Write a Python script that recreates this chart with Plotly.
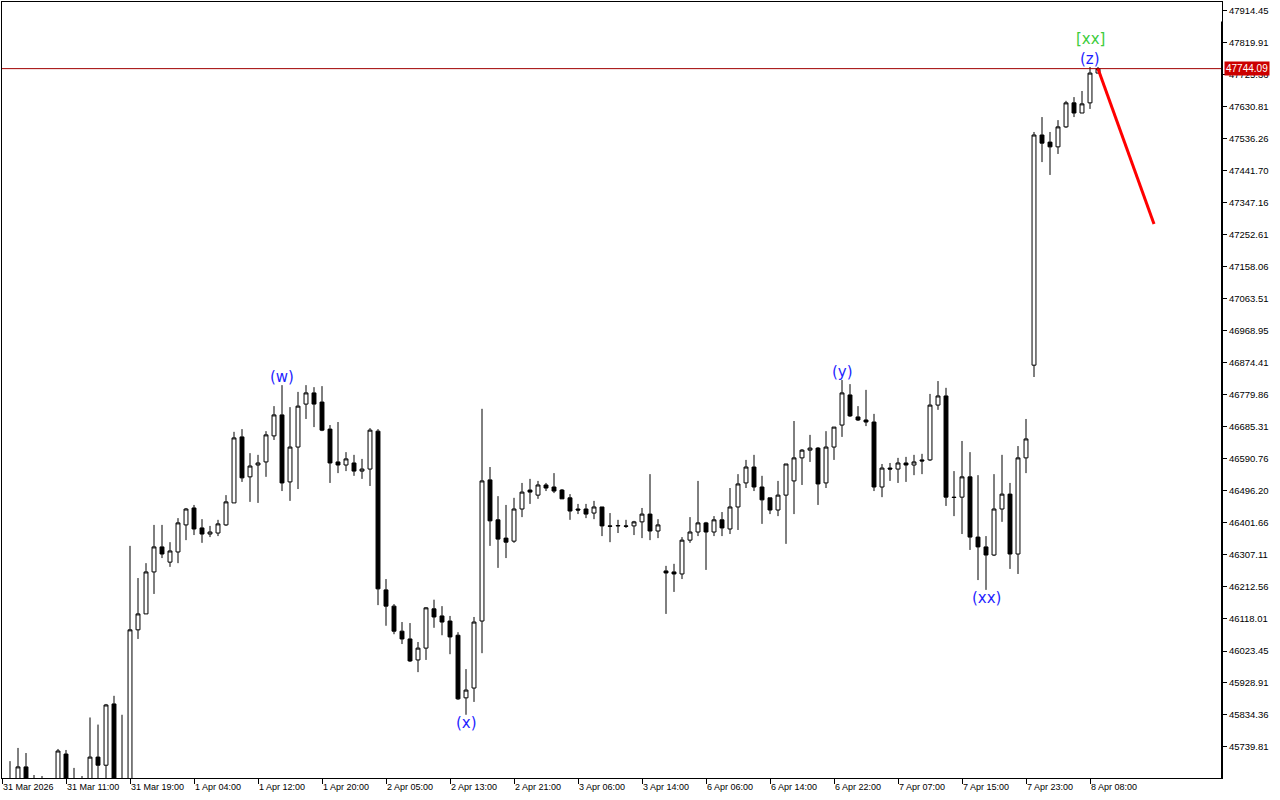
import plotly.graph_objects as go

# H1 candles, one per bar (index 0 = first bar on screen)
opens = [
    45630, 45635, 45630, 45681, 45630, 45625, 45630, 45630, 45719, 45640,
    45630, 45640, 45710, 45686, 45867, 45630, 45640, 46086, 46133, 46257,
    46331, 46286, 46316, 46396, 46446, 46387, 46369, 46372, 46396, 46461,
    46656, 46538, 46573, 46582, 46659, 46721, 46523, 46626, 46753, 46786,
    46759, 46679, 46582, 46573, 46579, 46555, 46561, 46673, 46204, 46156,
    46082, 46059, 45997, 46032, 46148, 46127, 46112, 46070, 45885, 45914,
    46112, 46529, 46411, 46357, 46348, 46443, 46499, 46484, 46514, 46508,
    46499, 46476, 46443, 46443, 46431, 46449, 46393, 46393, 46393, 46393,
    46405, 46428, 46378, 46260, 46257, 46251, 46351, 46375, 46402, 46375,
    46411, 46384, 46449, 46520, 46567, 46508, 46476, 46440, 46484, 46526,
    46594, 46617, 46623, 46520, 46626, 46691, 46780, 46715, 46706, 46700,
    46508, 46564, 46561, 46579, 46573, 46588, 46588, 46750, 46777, 46478,
    46478, 46538, 46360, 46331, 46307, 46443, 46487, 46310, 46594, 46868,
    47548, 47527, 47513, 47572, 47643, 47613, 47643, 47731,
]
highs = [
    45640, 45698, 45737, 45722, 45657, 45654, 45640, 45734, 45731, 45678,
    45654, 45827, 45806, 45867, 45891, 45835, 46334, 46239, 46283, 46396,
    46396, 46345, 46416, 46446, 46455, 46413, 46393, 46411, 46484, 46671,
    46679, 46608, 46603, 46673, 46747, 46809, 46744, 46789, 46809, 46803,
    46806, 46691, 46700, 46611, 46603, 46591, 46682, 46679, 46236, 46162,
    46109, 46106, 46050, 46153, 46175, 46156, 46127, 46079, 45970, 46124,
    46739, 46567, 46481, 46455, 46476, 46520, 46532, 46526, 46520, 46549,
    46502, 46487, 46458, 46458, 46467, 46449, 46431, 46411, 46411, 46408,
    46446, 46546, 46413, 46275, 46281, 46360, 46419, 46526, 46405, 46422,
    46434, 46505, 46546, 46588, 46603, 46541, 46476, 46526, 46576, 46703,
    46620, 46662, 46626, 46673, 46685, 46824, 46812, 46747, 46795, 46724,
    46576, 46579, 46594, 46597, 46603, 46606, 46783, 46821, 46801, 46555,
    46644, 46611, 46543, 46363, 46546, 46603, 46520, 46629, 46709, 47557,
    47601, 47557, 47592, 47649, 47660, 47678, 47749, 47749,
]
lows = [
    45600, 45600, 45610, 45600, 45600, 45605, 45600, 45610, 45610, 45605,
    45610, 45620, 45640, 45640, 45600, 45600, 45620, 46059, 46133, 46192,
    46298, 46272, 46283, 46351, 46366, 46343, 46360, 46363, 46393, 46461,
    46523, 46464, 46461, 46538, 46647, 46496, 46467, 46502, 46709, 46685,
    46673, 46520, 46549, 46555, 46541, 46532, 46511, 46159, 46098, 46073,
    46044, 45991, 45961, 45997, 46092, 46070, 46014, 45879, 45835, 45873,
    46017, 46334, 46269, 46298, 46343, 46419, 46458, 46473, 46496, 46490,
    46473, 46411, 46428, 46416, 46413, 46363, 46345, 46372, 46387, 46366,
    46357, 46351, 46357, 46133, 46198, 46236, 46343, 46363, 46263, 46363,
    46363, 46369, 46381, 46505, 46496, 46399, 46428, 46422, 46340, 46428,
    46514, 46582, 46455, 46505, 46588, 46656, 46715, 46703, 46688, 46496,
    46478, 46526, 46520, 46523, 46543, 46546, 46585, 46736, 46452, 46422,
    46369, 46322, 46233, 46204, 46304, 46405, 46266, 46251, 46549, 46833,
    47468, 47430, 47492, 47569, 47601, 47613, 47625, 47731,
]
closes = [
    45620, 45620, 45681, 45625, 45620, 45635, 45620, 45728, 45630, 45625,
    45640, 45710, 45686, 45864, 45630, 45640, 46086, 46133, 46257, 46331,
    46310, 46319, 46402, 46443, 46384, 46369, 46375, 46399, 46464, 46653,
    46535, 46570, 46579, 46662, 46721, 46520, 46626, 46747, 46786, 46753,
    46676, 46579, 46573, 46591, 46555, 46561, 46676, 46207, 46156, 46082,
    46059, 45994, 46032, 46151, 46124, 46109, 46065, 45882, 45908, 46109,
    46526, 46408, 46354, 46345, 46443, 46493, 46493, 46514, 46505, 46496,
    46473, 46437, 46440, 46428, 46449, 46393, 46392, 46394, 46392, 46405,
    46428, 46378, 46396, 46254, 46251, 46351, 46375, 46402, 46375, 46411,
    46387, 46449, 46517, 46567, 46508, 46470, 46440, 46484, 46576, 46594,
    46617, 46623, 46517, 46626, 46685, 46786, 46718, 46706, 46700, 46508,
    46564, 46561, 46579, 46573, 46582, 46585, 46750, 46777, 46478, 46477,
    46538, 46360, 46331, 46307, 46443, 46487, 46310, 46594, 46650, 47548,
    47524, 47513, 47572, 47643, 47613, 47640, 47731, 47744.09,
]

time_labels = [
    "31 Mar 2026", "31 Mar 11:00", "31 Mar 19:00", "1 Apr 04:00", "1 Apr 12:00",
    "1 Apr 20:00", "2 Apr 05:00", "2 Apr 13:00", "2 Apr 21:00", "3 Apr 06:00",
    "3 Apr 14:00", "6 Apr 06:00", "6 Apr 14:00", "6 Apr 22:00", "7 Apr 07:00",
    "7 Apr 15:00", "7 Apr 23:00", "8 Apr 08:00",
]
bars_per_label = 8

price_ticks = [
    47914.45, 47819.91, 47725.36, 47630.81, 47536.26, 47441.70, 47347.16,
    47252.61, 47158.06, 47063.51, 46968.95, 46874.41, 46779.86, 46685.31,
    46590.76, 46496.20, 46401.66, 46307.11, 46212.56, 46118.01, 46023.45,
    45928.91, 45834.36, 45739.81,
]

# wave labels: bar index, text, above/below the bar
wave_bars = [35, 58, 105, 123, 136]
wave_texts = ["(w)", "(x)", "(y)", "(xx)", "(z)"]
wave_above = [True, False, True, False, True]
major_bar = 136
major_text = "[xx]"

# projected move after the last bar
proj_bars = [137, 144]
proj_prices = [47744.09, 47285.0]

y_range = [45648.2, 47941.0]
x_range = [0, 152.5]

x_idx = list(range(len(opens)))
last_price = closes[-1]

fig = go.Figure()
fig.add_trace(
    go.Candlestick(
        x=x_idx,
        open=opens,
        high=highs,
        low=lows,
        close=closes,
        increasing=dict(fillcolor="white", line=dict(color="black", width=1)),
        decreasing=dict(fillcolor="black", line=dict(color="black", width=1)),
        whiskerwidth=0,
        showlegend=False,
    )
)
fig.add_trace(
    go.Scatter(
        x=proj_bars,
        y=proj_prices,
        mode="lines",
        line=dict(color="#ff0000", width=3),
        showlegend=False,
        hoverinfo="skip",
    )
)

# bid line
fig.add_shape(
    type="line", xref="paper", x0=0, x1=1, y0=last_price, y1=last_price,
    line=dict(color="#a00000", width=1),
)
# heavier price-scale edge
fig.add_shape(
    type="line", xref="paper", yref="paper", x0=1, x1=1, y0=0, y1=0.975,
    line=dict(color="black", width=2),
)

label_font = dict(family="DejaVu Sans", size=15, color="#1f1fff")
for b, t, up in zip(wave_bars, wave_texts, wave_above):
    fig.add_annotation(
        x=b, y=highs[b] if up else lows[b], text=t, showarrow=False,
        yanchor="bottom" if up else "top", yshift=-3 if up else 3,
        font=label_font,
    )
fig.add_annotation(
    x=major_bar, y=highs[major_bar], text=major_text, showarrow=False,
    yanchor="bottom", yshift=17,
    font=dict(family="DejaVu Sans", size=15, color="#3ccc3c"),
)

# current price tag on the price scale
fig.add_annotation(
    xref="paper", x=1, y=last_price, xanchor="left", xshift=2,
    text=f"{last_price:.2f}", showarrow=False,
    font=dict(family="Liberation Sans", size=10, color="white"),
    bgcolor="#cc0000", borderpad=1,
)

fig.update_layout(
    width=1280,
    height=800,
    margin=dict(l=2, r=58, t=2, b=22, autoexpand=False),
    paper_bgcolor="white",
    plot_bgcolor="white",
    boxgap=0.3,
    hovermode=False,
    font=dict(family="Liberation Sans", size=9, color="black"),
    xaxis=dict(
        range=x_range,
        rangeslider=dict(visible=False),
        showgrid=False,
        zeroline=False,
        showline=True,
        linecolor="black",
        linewidth=1,
        mirror=True,
        ticks="outside",
        ticklen=5,
        tickcolor="black",
        tickvals=[bars_per_label * k for k in range(len(time_labels))],
        ticktext=time_labels,
        ticklabelposition="outside right",
        tickfont=dict(family="Liberation Sans", size=9, color="black"),
    ),
    yaxis=dict(
        side="right",
        range=y_range,
        showgrid=False,
        zeroline=False,
        showline=True,
        linecolor="black",
        linewidth=1,
        mirror=True,
        ticks="outside",
        ticklen=4,
        tickcolor="black",
        tickvals=price_ticks,
        ticktext=[f"{v:.2f}" for v in price_ticks],
        tickfont=dict(family="Liberation Sans", size=9.5, color="black"),
    ),
)

fig.write_html(
    "out.html",
    config={"displayModeBar": False},
    post_script="document.body.style.margin='0';document.body.style.overflow='hidden';",
)
